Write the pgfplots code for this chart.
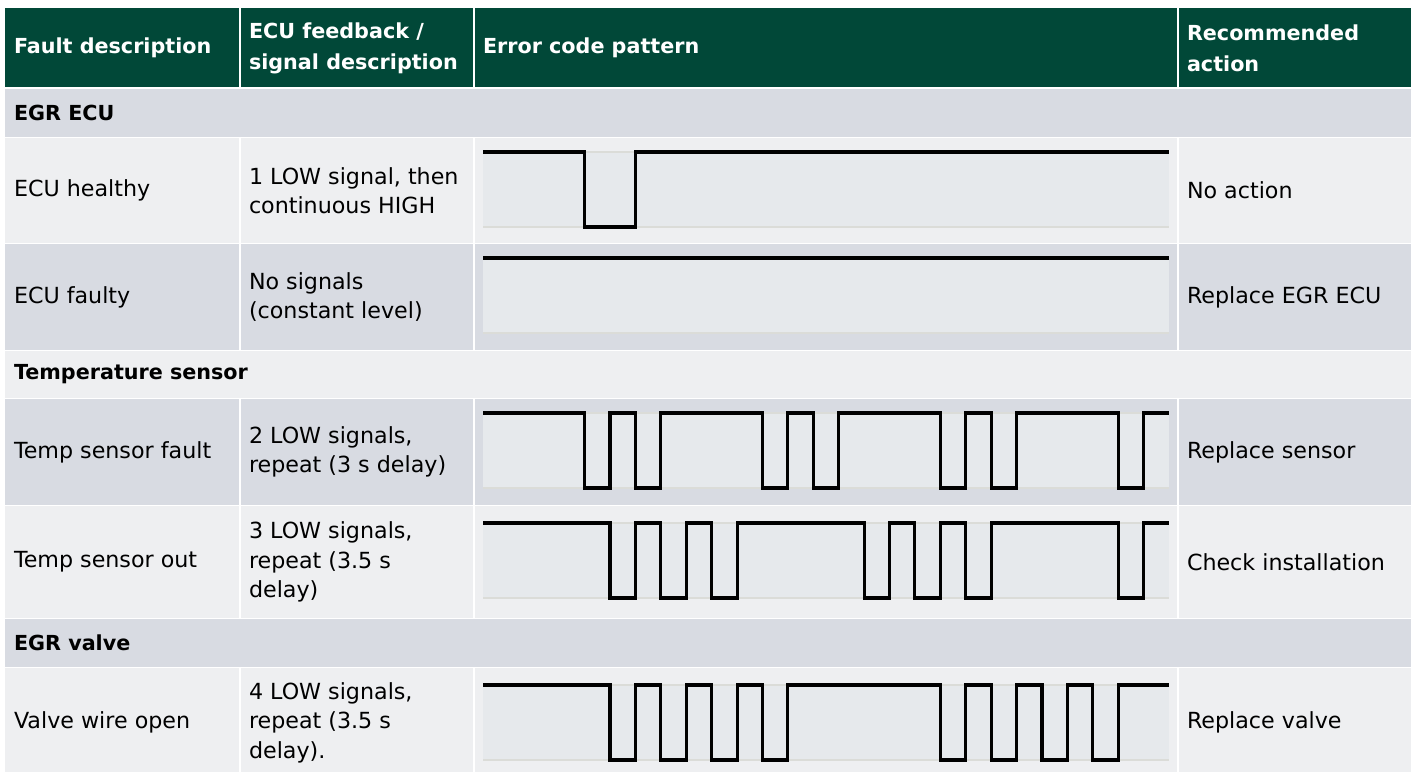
\documentclass[border=0pt]{standalone}
\usepackage{pgfplots}
\pgfplotsset{compat=1.18}
\usepackage{fontspec}
\setmainfont{DejaVu Sans}
\definecolor{hdr}{RGB}{1,72,56}
\definecolor{darkrow}{RGB}{216,219,226}
\definecolor{lightrow}{RGB}{238,239,241}
\definecolor{wbg}{RGB}{230,233,236}
\definecolor{wln}{RGB}{219,220,216}
\pgfplotsset{wave/.style={width=343pt,height=37.5pt,scale only axis,
  xmin=0,xmax=27,ymin=0,ymax=1,axis lines=none,ticks=none,clip=false,
  anchor=south west}}
\begin{document}
\begin{tikzpicture}[x=0.5pt,y=-0.5pt,
  every node/.style={inner sep=0pt,outer sep=0pt,align=left,anchor=west,
  font=\fontsize{11.1}{14.75}\selectfont}]
\useasboundingbox (0,0) rectangle (1413,771);
\clip (0,0) rectangle (1413,771);
\fill[white] (0,0) rectangle (1413,771);
% rows
\fill[hdr] (5,8) rectangle (1411,88);
\fill[darkrow] (5,88) rectangle (1411,137.5);
\fill[lightrow] (5,137.5) rectangle (1411,243.5);
\fill[darkrow] (5,243.5) rectangle (1411,350.5);
\fill[lightrow] (5,350.5) rectangle (1411,398.5);
\fill[darkrow] (5,398.5) rectangle (1411,505.5);
\fill[lightrow] (5,505.5) rectangle (1411,618.5);
\fill[darkrow] (5,618.5) rectangle (1411,667.5);
\fill[lightrow] (5,667.5) rectangle (1411,790);
% separators
\begin{scope}[white,line width=0.8pt]
\foreach \y in {88,137.5,243.5,350.5,398.5,505.5,618.5,667.5}{\draw (5,\y) -- (1411,\y);}
\foreach \x in {240,474,1178}{
  \draw (\x,8) -- (\x,88);
  \draw (\x,137.5) -- (\x,350.5);
  \draw (\x,398.5) -- (\x,618.5);
  \draw (\x,667.5) -- (\x,790);}
\end{scope}
% waveform backgrounds
\foreach \t/\b in {152/227,258/333,413/488,523/598,685/760}{
  \fill[wbg] (483,\t) rectangle (1169,\b);
  \draw[wln,line width=1.2pt] (483,\b) -- (1169,\b);
  \draw[wln,line width=1.2pt] (483,\t) -- (1169,\t);}
% header text
\begin{scope}[every node/.append style={text=white,font=\fontsize{10.35}{15.5}\selectfont\bfseries}]
\node at (14,48) {Fault description};
\node at (249,48) {ECU feedback /\\signal description};
\node at (483,48) {Error code pattern};
\node at (1187,48) {Recommended\\action};
\end{scope}
% section text
\begin{scope}[every node/.append style={font=\fontsize{10.35}{14.75}\selectfont\bfseries}]
\node at (14,113) {EGR ECU};
\node at (14,374.5) {Temperature sensor};
\node at (14,643) {EGR valve};
\end{scope}
% body text
\node at (14,190.5) {ECU healthy};
\node at (249,190.5) {1 LOW signal, then\\continuous HIGH};
\node at (1187,190.5) {No action};
\node at (14,297) {ECU faulty};
\node at (249,297) {No signals\\(constant level)};
\node at (1187,297) {Replace EGR ECU};
\node at (14,452) {Temp sensor fault};
\node at (249,452) {2 LOW signals,\\repeat (3 s delay)};
\node at (1187,452) {Replace sensor};
\node at (14,562) {Temp sensor out};
\node at (249,562) {3 LOW signals,\\repeat (3.5 s\\delay)};
\node at (1187,562) {Check installation};
\node at (14,722.5) {Valve wire open};
\node at (249,722.5) {4 LOW signals,\\repeat (3.5 s\\delay).};
\node at (1187,722.5) {Replace valve};
% waveforms
\coordinate (w1) at (483,227);
\coordinate (w2) at (483,333);
\coordinate (w3) at (483,488);
\coordinate (w4) at (483,598);
\coordinate (w5) at (483,760);
\begin{axis}[wave,at={(w1)}]
\addplot[black,line width=1.55pt,const plot,line join=miter,mark=none]
  coordinates {(0,1)(4,0)(6,1)(27,1)};
\end{axis}
\begin{axis}[wave,at={(w2)}]
\addplot[black,line width=1.55pt,const plot,line join=miter,mark=none]
  coordinates {(0,1)(27,1)};
\end{axis}
\begin{axis}[wave,at={(w3)}]
\addplot[black,line width=1.55pt,const plot,line join=miter,mark=none]
  coordinates {(0,1)(4,0)(5,1)(6,0)(7,1)(11,0)(12,1)(13,0)(14,1)(18,0)(19,1)(20,0)(21,1)(25,0)(26,1)(27,1)};
\end{axis}
\begin{axis}[wave,at={(w4)}]
\addplot[black,line width=1.55pt,const plot,line join=miter,mark=none]
  coordinates {(0,1)(5,0)(6,1)(7,0)(8,1)(9,0)(10,1)(15,0)(16,1)(17,0)(18,1)(19,0)(20,1)(25,0)(26,1)(27,1)};
\end{axis}
\begin{axis}[wave,at={(w5)}]
\addplot[black,line width=1.55pt,const plot,line join=miter,mark=none]
  coordinates {(0,1)(5,0)(6,1)(7,0)(8,1)(9,0)(10,1)(11,0)(12,1)(18,0)(19,1)(20,0)(21,1)(22,0)(23,1)(24,0)(25,1)(27,1)};
\end{axis}
\end{tikzpicture}
\end{document}
